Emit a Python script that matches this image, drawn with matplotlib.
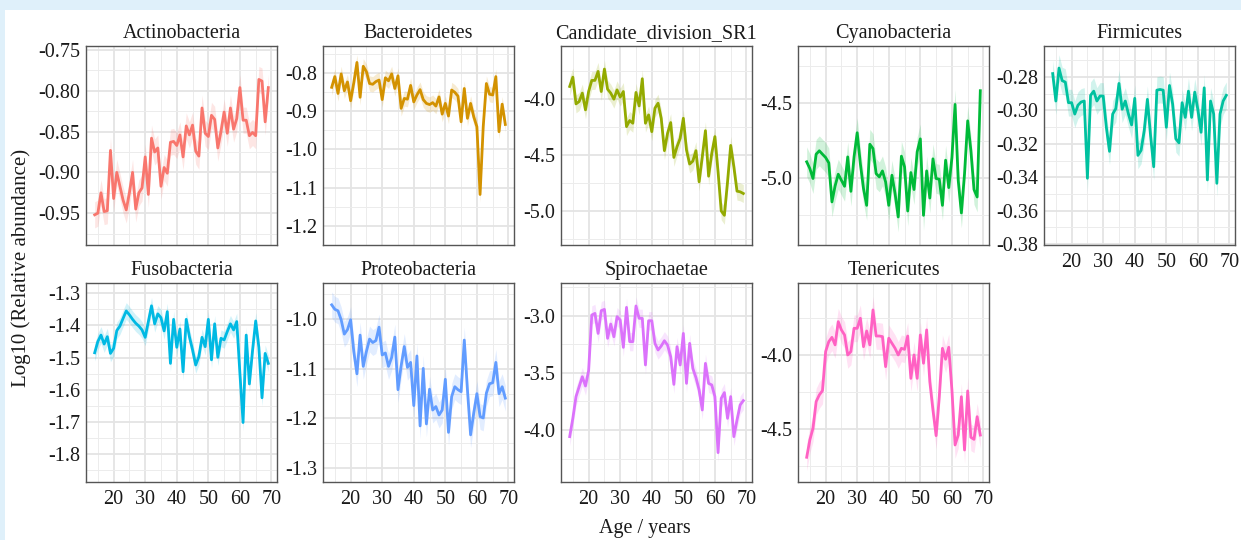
import matplotlib
matplotlib.use("Agg")
import matplotlib.pyplot as plt
from matplotlib.ticker import MultipleLocator, FormatStrFormatter
import numpy as np

plt.rcParams['font.family'] = ['Liberation Serif', 'DejaVu Serif']

# ages 14..69
ages = list(range(14, 70))

phyla = ['Actinobacteria', 'Bacteroidetes', 'Candidate_division_SR1', 'Cyanobacteria',
         'Firmicutes', 'Fusobacteria', 'Proteobacteria', 'Spirochaetae', 'Tenericutes']

colors = ['#F8766D', '#D39200', '#93AA00', '#00BA38', '#00C19F',
          '#00B9E3', '#619CFF', '#DB72FB', '#FF61C3']

actino = [-0.952, -0.950, -0.925, -0.948, -0.947, -0.873, -0.932, -0.900, -0.917, -0.934,
          -0.946, -0.925, -0.900, -0.945, -0.925, -0.919, -0.881, -0.927, -0.858, -0.875,
          -0.870, -0.917, -0.894, -0.901, -0.863, -0.862, -0.867, -0.854, -0.881, -0.843,
          -0.854, -0.842, -0.874, -0.880, -0.821, -0.852, -0.856, -0.830, -0.835, -0.870,
          -0.850, -0.826, -0.852, -0.821, -0.847, -0.834, -0.796, -0.836, -0.836, -0.855,
          -0.851, -0.855, -0.786, -0.788, -0.838, -0.796]

bactero = [-0.838, -0.810, -0.854, -0.803, -0.847, -0.824, -0.873, -0.826, -0.773, -0.864,
           -0.783, -0.797, -0.828, -0.830, -0.823, -0.819, -0.870, -0.813, -0.821, -0.803,
           -0.841, -0.808, -0.893, -0.867, -0.869, -0.833, -0.876, -0.858, -0.844, -0.870,
           -0.880, -0.883, -0.878, -0.887, -0.863, -0.908, -0.880, -0.913, -0.845, -0.851,
           -0.861, -0.928, -0.841, -0.919, -0.880, -0.915, -0.941, -1.118, -0.941, -0.828,
           -0.856, -0.858, -0.810, -0.954, -0.882, -0.935]

sr1 = [-3.890, -3.807, -4.045, -4.024, -3.949, -4.098, -3.935, -3.836, -3.836, -3.756,
       -3.935, -3.735, -3.914, -3.949, -4.003, -3.920, -3.985, -3.935, -4.247, -4.193,
       -4.217, -3.943, -4.063, -3.821, -4.217, -4.143, -4.292, -4.083, -4.039, -4.173,
       -4.461, -4.307, -4.211, -4.521, -4.426, -4.351, -4.173, -4.455, -4.580, -4.554,
       -4.461, -4.738, -4.515, -4.283, -4.688, -4.485, -4.336, -4.649, -4.997, -5.036,
       -4.738, -4.414, -4.604, -4.821, -4.827, -4.842]

cyano = [-4.892, -4.937, -5.004, -4.841, -4.818, -4.841, -4.863, -4.899, -5.161, -5.054,
         -4.975, -5.016, -5.056, -4.859, -5.090, -4.859, -4.697, -4.904, -5.072, -5.184,
         -4.774, -4.803, -4.971, -4.993, -4.953, -5.027, -5.184, -4.982, -5.105, -5.262,
         -4.854, -4.926, -5.222, -4.964, -5.078, -4.825, -4.738, -5.251, -4.953, -5.135,
         -4.872, -5.004, -5.009, -5.184, -4.881, -5.065, -4.865, -4.507, -5.016, -5.235,
         -4.971, -4.617, -4.814, -5.078, -5.128, -4.415]

firmi = [-0.2780, -0.2944, -0.2747, -0.2822, -0.2831, -0.2954, -0.2954, -0.3022, -0.2969, -0.2950,
         -0.2944, -0.3406, -0.2910, -0.2885, -0.2944, -0.2914, -0.2914, -0.3101, -0.3245, -0.3022,
         -0.2989, -0.2839, -0.2993, -0.2944, -0.3022, -0.3087, -0.2928, -0.3269, -0.3239, -0.3121,
         -0.2934, -0.3150, -0.3337, -0.2879, -0.2875, -0.2879, -0.3101, -0.2851, -0.2963, -0.3170,
         -0.3194, -0.2954, -0.3042, -0.2885, -0.3042, -0.2891, -0.2997, -0.3131, -0.2865, -0.3416,
         -0.2944, -0.3022, -0.3436, -0.3022, -0.2944, -0.2910]

fuso = [-1.485, -1.450, -1.430, -1.458, -1.435, -1.487, -1.471, -1.416, -1.402, -1.378,
        -1.355, -1.367, -1.381, -1.393, -1.402, -1.414, -1.437, -1.388, -1.339, -1.395,
        -1.364, -1.376, -1.417, -1.357, -1.518, -1.381, -1.468, -1.411, -1.544, -1.381,
        -1.435, -1.476, -1.523, -1.497, -1.437, -1.466, -1.381, -1.507, -1.395, -1.499,
        -1.440, -1.445, -1.419, -1.395, -1.414, -1.388, -1.549, -1.702, -1.430, -1.582,
        -1.478, -1.386, -1.468, -1.625, -1.487, -1.518]

proteo = [-0.971, -0.980, -0.983, -1.001, -1.030, -1.021, -1.001, -1.065, -1.110, -1.032,
          -1.095, -1.065, -1.040, -1.047, -1.043, -1.016, -1.072, -1.068, -1.095, -1.077,
          -1.036, -1.142, -1.094, -1.055, -1.097, -1.087, -1.174, -1.074, -1.215, -1.099,
          -1.211, -1.141, -1.183, -1.176, -1.193, -1.183, -1.121, -1.228, -1.156, -1.136,
          -1.142, -1.146, -1.042, -1.142, -1.233, -1.189, -1.150, -1.196, -1.199, -1.149,
          -1.130, -1.128, -1.087, -1.150, -1.136, -1.159]

spiro = [-4.058, -3.898, -3.708, -3.621, -3.534, -3.615, -3.481, -2.994, -2.980, -3.155,
         -2.956, -2.945, -3.198, -3.073, -3.184, -3.009, -3.038, -3.277, -2.927, -3.227,
         -3.227, -2.915, -3.023, -3.023, -3.431, -3.044, -3.044, -3.242, -3.300, -3.265,
         -3.219, -3.257, -3.359, -3.601, -3.271, -3.431, -3.155, -3.592, -3.242, -3.461,
         -3.542, -3.650, -3.825, -3.417, -3.592, -3.606, -3.708, -4.198, -3.723, -3.673,
         -3.898, -3.708, -4.058, -3.913, -3.781, -3.743]

teneri = [-4.691, -4.574, -4.495, -4.315, -4.270, -4.241, -3.977, -3.910, -3.881, -3.932,
          -3.775, -3.831, -3.865, -4.000, -3.977, -3.820, -3.820, -3.752, -3.944, -3.838,
          -3.932, -3.696, -3.872, -3.872, -3.876, -4.079, -3.887, -3.921, -3.955, -4.000,
          -3.955, -3.962, -3.872, -4.158, -4.000, -4.158, -3.865, -4.056, -3.831, -4.180,
          -4.372, -4.545, -4.282, -3.955, -4.029, -3.948, -4.236, -4.608, -4.541, -4.282,
          -4.642, -4.243, -4.556, -4.570, -4.417, -4.541]

series = [actino, bactero, sr1, cyano, firmi, fuso, proteo, spiro, teneri]

# approximate half width of the shaded band per panel
band = [0.016, 0.02, 0.08, 0.1, 0.008, 0.026, 0.026, 0.08, 0.09]

ylims = [(-0.989, -0.745), (-1.25, -0.73), (-5.30, -3.53), (-5.45, -4.115), (-0.3805, -0.2615),
         (-1.887, -1.268), (-1.328, -0.927), (-4.455, -2.714), (-4.858, -3.514)]
ysteps = [0.05, 0.1, 0.5, 0.5, 0.02, 0.1, 0.1, 0.5, 0.5]
yfmt = ['%.2f', '%.1f', '%.1f', '%.1f', '%.2f', '%.1f', '%.1f', '%.1f', '%.1f']

W, H = 1241, 540
fig = plt.figure(figsize=(W / 100, H / 100), dpi=100, facecolor='#dff0fa')
fig.patches.append(plt.Rectangle((5 / W, 0), 1, 1 - 10 / H, transform=fig.transFigure,
                                 facecolor='white', edgecolor='none', zorder=-10))

lefts = [86, 323, 561, 798, 1044]
tops = [46, 283]
pw, ph = 191, 199

for i, name in enumerate(phyla):
    r, c = divmod(i, 5)
    ax = fig.add_axes([lefts[c] / W, 1 - (tops[r] + ph) / H, pw / W, ph / H])
    y = np.array(series[i])
    ax.fill_between(ages, y - band[i], y + band[i], color=colors[i], alpha=0.18, lw=0)
    ax.plot(ages, y, color=colors[i], lw=2)
    ax.set_xlim(11.25, 71.75)
    ax.set_ylim(*ylims[i])
    ax.xaxis.set_major_locator(MultipleLocator(10))
    ax.xaxis.set_minor_locator(MultipleLocator(5))
    ax.yaxis.set_major_locator(MultipleLocator(ysteps[i]))
    ax.yaxis.set_minor_locator(MultipleLocator(ysteps[i] / 2))
    ax.yaxis.set_major_formatter(FormatStrFormatter(yfmt[i]))
    ax.grid(which='major', color='#e4e4e4', lw=1.3)
    ax.grid(which='minor', color='#ececec', lw=0.7)
    ax.set_axisbelow(True)
    for s in ax.spines.values():
        s.set_color('#555555')
        s.set_linewidth(1)
    ax.tick_params(which='both', length=0, labelsize=14.5, colors='#1a1a1a', pad=4)
    ax.tick_params(axis='x', pad=6)
    if r == 0 and c < 4:
        ax.set_xticklabels([])
    ax.set_title(name, fontsize=14.5, color='#1a1a1a', pad=6)

fig.text(645 / W, 1 - 528 / H, 'Age / years', ha='center', va='center', fontsize=14.5, color='#1a1a1a')
fig.text(21 / W, 1 - 268 / H, 'Log10 (Relative abundance)', ha='center', va='center',
         rotation=90, fontsize=15, color='#1a1a1a')

fig.savefig('out.png', dpi=100, facecolor=fig.get_facecolor())
